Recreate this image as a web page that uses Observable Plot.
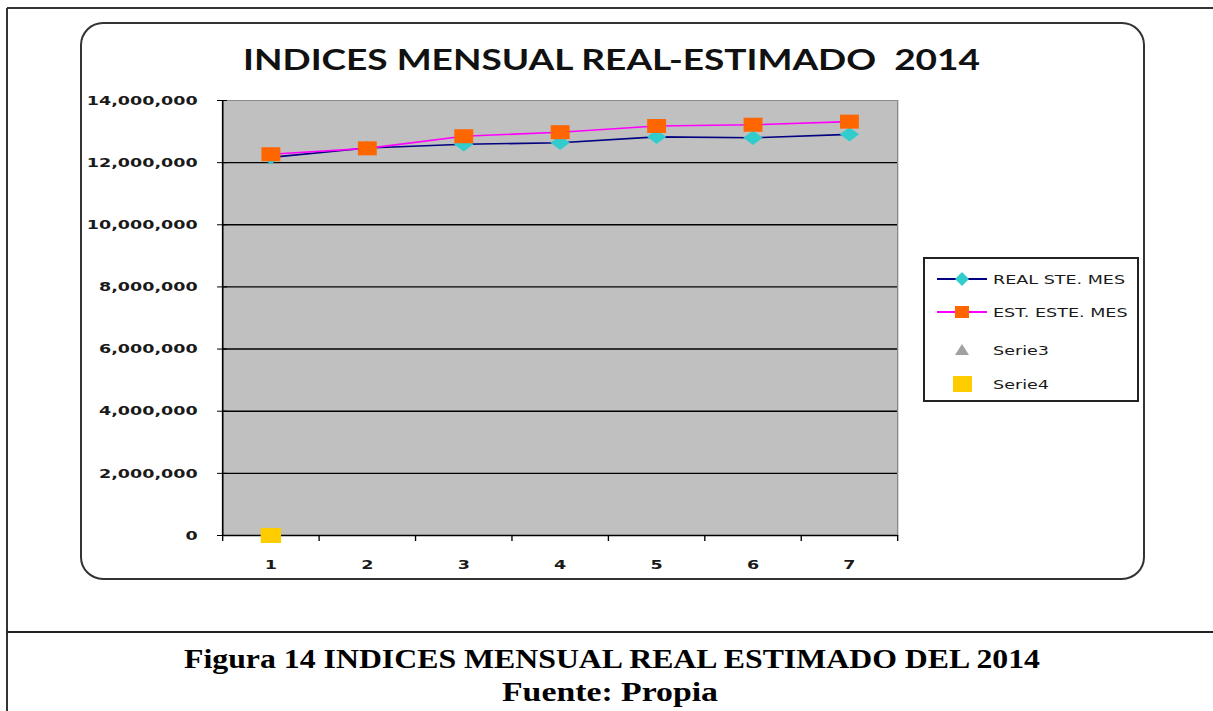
<!DOCTYPE html>
<html><head><meta charset="utf-8">
<script src="https://cdn.jsdelivr.net/npm/d3@7"></script>
<script src="https://cdn.jsdelivr.net/npm/@observablehq/plot@0.6"></script>
<style>
html,body{margin:0;padding:0;background:#fff;}
#page{position:relative;width:1213px;height:711px;overflow:hidden;background:#fff;}
#deco,#chart,#legend{position:absolute;left:0;top:0;}
#chart{transform-origin:0 0;}
</style></head>
<body><div id="page"><svg id="deco" width="1213" height="711"></svg><div id="chart"></div><svg id="legend" width="1213" height="711"></svg></div>
<script>
// ---- data ----
const months = [1, 2, 3, 4, 5, 6, 7];
const realSteMes = [12170000, 12470000, 12590000, 12640000, 12830000, 12800000, 12910000];
const estEsteMes = [12270000, 12460000, 12850000, 12980000, 13180000, 13220000, 13320000];
const serie3Months = [];
const serie3Values = [];
const serie4Months = [1];
const serie4Values = [0];
const yTickValues = [0, 2000000, 4000000, 6000000, 8000000, 10000000, 12000000, 14000000];
const seriesNames = ["REAL STE. MES", "EST. ESTE. MES", "Serie3", "Serie4"];
const chartTitle = "INDICES MENSUAL REAL-ESTIMADO  2014";
const captionLine1 = "Figura 14 INDICES MENSUAL REAL ESTIMADO DEL 2014";
const captionLine2 = "Fuente: Propia";

const real = months.map((m, i) => ({month: m, value: realSteMes[i]}));
const est = months.map((m, i) => ({month: m, value: estEsteMes[i]}));
const s3 = serie3Months.map((m, i) => ({month: m, value: serie3Values[i]}));
const s4 = serie4Months.map((m, i) => ({month: m, value: serie4Values[i]}));
const boundaries = months.map(m => m - 0.5).concat([months[months.length - 1] + 0.5]);

const C = {real: "#000080", realFill: "#33cccc", est: "#ff00ff", estFill: "#ff6600", s3: "#a0a0a0", s4: "#ffcc00"};

// ---- decorations (page frame, chart box, title, caption) ----
const deco = d3.select("#deco");
deco.append("line").attr("x1", 7).attr("x2", 1213).attr("y1", 8).attr("y2", 8).attr("stroke", "#333").attr("stroke-width", 2);
deco.append("line").attr("x1", 7).attr("x2", 7).attr("y1", 8).attr("y2", 711).attr("stroke", "#333").attr("stroke-width", 2);
deco.append("line").attr("x1", 7).attr("x2", 1213).attr("y1", 632).attr("y2", 632).attr("stroke", "#222").attr("stroke-width", 2);
deco.append("rect").attr("x", 81).attr("y", 23).attr("width", 1063).attr("height", 556).attr("rx", 22)
  .attr("fill", "none").attr("stroke", "#333").attr("stroke-width", 2);
deco.append("text").attr("x", 243).attr("y", 70).attr("textLength", 737).attr("lengthAdjust", "spacingAndGlyphs")
  .attr("font-family", "Lato, 'Open Sans', sans-serif").attr("font-weight", "bold").attr("font-size", 29)
  .attr("fill", "#111").style("white-space", "pre").text(chartTitle);
deco.append("text").attr("x", 184).attr("y", 668).attr("textLength", 856).attr("lengthAdjust", "spacingAndGlyphs")
  .attr("font-family", "'Liberation Serif', serif").attr("font-weight", "bold").attr("font-size", 28)
  .attr("fill", "#000").text(captionLine1);
deco.append("text").attr("x", 502).attr("y", 701).attr("textLength", 216).attr("lengthAdjust", "spacingAndGlyphs")
  .attr("font-family", "'Liberation Serif', serif").attr("font-weight", "bold").attr("font-size", 28)
  .attr("fill", "#000").text(captionLine2);

// ---- chart (drawn narrow, stretched horizontally like the reference) ----
const S = 1.35;
const W = 1213 / S;
const plotLeft = 222 / S, plotRight = 897 / S;
const chart = Plot.plot({
  width: W, height: 711,
  marginLeft: plotLeft, marginRight: W - plotRight, marginTop: 100, marginBottom: 176,
  style: {background: "transparent", overflow: "visible", maxWidth: "none", fontFamily: "'DejaVu Sans', sans-serif", fontSize: "13px", fontWeight: "bold", color: "#1a1a1a"},
  x: {domain: [months[0] - 0.5, months[months.length - 1] + 0.5], axis: null, label: null},
  y: {domain: [0, 14000000], axis: null, label: null},
  marks: [
    Plot.frame({fill: "#c0c0c0", stroke: "#8a8a8a"}),
    Plot.ruleY(yTickValues.filter(v => v > 0 && v < 14000000), {stroke: "#000", strokeWidth: 1.4}),
    Plot.ruleY([0], {stroke: "#000", strokeWidth: 1.5}),
    Plot.ruleX([boundaries[0]], {stroke: "#000", strokeWidth: 1.2}),
    Plot.axisY({ticks: yTickValues, tickFormat: d3.format(","), tickSize: 7.4, dx: 3.7, tickPadding: 14.8, stroke: "#000", label: null}),
    Plot.axisX({ticks: boundaries, tickFormat: () => "", tickSize: 6, stroke: "#000", label: null}),
    Plot.axisX({ticks: months, tickSize: 0, tickPadding: 24, tickFormat: d => String(d), label: null}),
    Plot.line(real, {x: "month", y: "value", stroke: C.real, strokeWidth: 1.6}),
    Plot.dot(real, {x: "month", y: "value", symbol: "diamond2", r: 6.5, fill: C.realFill, stroke: "none"}),
    Plot.line(est, {x: "month", y: "value", stroke: C.est, strokeWidth: 1.6}),
    Plot.dot(est, {x: "month", y: "value", symbol: "square", r: 7.9, fill: C.estFill, stroke: "none"}),
    Plot.dot(s3, {x: "month", y: "value", symbol: "triangle", r: 6, fill: C.s3, stroke: "none"}),
    Plot.dot(s4, {x: "month", y: "value", symbol: "square", r: 8.5, fill: C.s4, stroke: "none"})
  ]
});
const holder = document.getElementById("chart");
holder.appendChild(chart);
holder.style.transform = `scaleX(${S})`;

// ---- legend ----
const lg = d3.select("#legend");
lg.append("rect").attr("x", 924).attr("y", 258).attr("width", 214).attr("height", 143)
  .attr("fill", "#fff").attr("stroke", "#222").attr("stroke-width", 2);
const rows = [279, 312, 350, 384];
const lineX1 = 937, lineX2 = 987, mx = 962, tx = 993;
// REAL
lg.append("line").attr("x1", lineX1).attr("x2", lineX2).attr("y1", rows[0]).attr("y2", rows[0]).attr("stroke", C.real).attr("stroke-width", 2);
lg.append("path").attr("d", `M${mx},${rows[0]-7}L${mx+7},${rows[0]}L${mx},${rows[0]+7}L${mx-7},${rows[0]}Z`).attr("fill", C.realFill);
// EST
lg.append("line").attr("x1", lineX1).attr("x2", lineX2).attr("y1", rows[1]).attr("y2", rows[1]).attr("stroke", C.est).attr("stroke-width", 2);
lg.append("rect").attr("x", mx - 7).attr("y", rows[1] - 6).attr("width", 14).attr("height", 12).attr("fill", C.estFill);
// Serie3
lg.append("path").attr("d", `M${mx},${rows[2]-6}L${mx+7},${rows[2]+5}L${mx-7},${rows[2]+5}Z`).attr("fill", C.s3);
// Serie4
lg.append("rect").attr("x", mx - 9).attr("y", rows[3] - 8).attr("width", 19).attr("height", 16).attr("fill", C.s4);
seriesNames.forEach((name, i) => {
  lg.append("text").attr("transform", `translate(${tx},${rows[i] + 5}) scale(${S},1)`)
    .attr("font-family", "'DejaVu Sans', sans-serif").attr("font-size", 13).attr("fill", "#1a1a1a").text(name);
});
</script>
</body></html>
